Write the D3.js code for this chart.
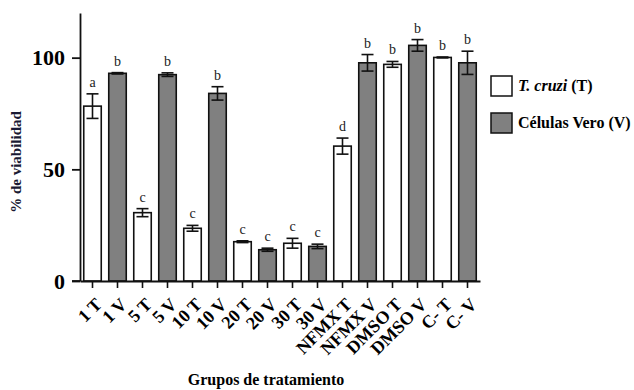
<!DOCTYPE html>
<html>
<head>
<meta charset="utf-8">
<script src="https://cdn.jsdelivr.net/npm/d3@7"></script>
<style>
  html, body { margin: 0; padding: 0; background: #fff; }
  svg { display: block; }
</style>
</head>
<body>
<svg id="chart" width="634" height="390"></svg>
<script>
// Treatment groups (T = T. cruzi, V = Vero cells)
const groups = ["1 T", "1 V", "5 T", "5 V", "10 T", "10 V", "20 T", "20 V",
                "30 T", "30 V", "NFMX T", "NFMX V", "DMSO T", "DMSO V", "C- T", "C- V"];
const series = ["T", "V", "T", "V", "T", "V", "T", "V", "T", "V", "T", "V", "T", "V", "T", "V"];
const viability = [78.3, 93.0, 30.6, 92.4, 23.6, 84.0, 17.6, 14.0, 16.9, 15.5, 60.4, 97.7, 97.0, 105.5, 100.1, 97.7];
const errors    = [5.5, 0.3, 1.8, 0.8, 1.3, 3.0, 0.4, 0.7, 2.2, 1.0, 3.6, 3.7, 1.3, 2.6, 0.2, 5.2];
const letters   = ["a", "b", "c", "b", "c", "b", "c", "c", "c", "c", "d", "b", "b", "b", "b", "b"];
const yTicks = [0, 50, 100];
const legendItems = [
  { key: "T", italic: "T. cruzi", rest: " (T)" },
  { key: "V", italic: "", rest: "Células Vero (V)" }
];

const fills = { T: "#ffffff", V: "#808080" };
const SERIF = "'Liberation Serif', 'Times New Roman', serif";

const svg = d3.select("#chart");

const x = d3.scaleBand()
  .domain(groups)
  .range([80, 480])
  .paddingInner(0.3)
  .paddingOuter(0.15);

const y = d3.scaleLinear().domain([0, 120]).range([281, 13]);

// Bars
svg.append("g").selectAll("rect")
  .data(groups)
  .join("rect")
  .attr("x", d => x(d))
  .attr("width", x.bandwidth())
  .attr("y", (d, i) => y(viability[i]))
  .attr("height", (d, i) => y(0) - y(viability[i]))
  .attr("fill", (d, i) => fills[series[i]])
  .attr("stroke", "#111")
  .attr("stroke-width", 1.6);

// Error bars
const cap = 6;
const eb = svg.append("g").attr("stroke", "#111").attr("stroke-width", 1.6);
groups.forEach((g, i) => {
  const cx = x(g) + x.bandwidth() / 2;
  const hi = y(viability[i] + errors[i]);
  const lo = y(viability[i] - errors[i]);
  eb.append("line").attr("x1", cx).attr("x2", cx).attr("y1", hi).attr("y2", lo);
  eb.append("line").attr("x1", cx - cap).attr("x2", cx + cap).attr("y1", hi).attr("y2", hi);
  eb.append("line").attr("x1", cx - cap).attr("x2", cx + cap).attr("y1", lo).attr("y2", lo);
});

// Significance letters
svg.append("g").selectAll("text")
  .data(groups)
  .join("text")
  .attr("x", d => x(d) + x.bandwidth() / 2)
  .attr("y", (d, i) => y(viability[i] + errors[i]) - 7)
  .attr("text-anchor", "middle")
  .style("font-family", SERIF)
  .style("font-size", "14px")
  .attr("fill", "#222")
  .text((d, i) => letters[i]);

// Y axis
const yAxis = svg.append("g")
  .attr("transform", "translate(80,0)")
  .call(d3.axisLeft(y).tickValues(yTicks).tickSize(8).tickSizeOuter(0).tickPadding(7));
yAxis.select(".domain").attr("stroke", "#111").attr("stroke-width", 1.8);
yAxis.selectAll(".tick line").attr("stroke", "#111").attr("stroke-width", 1.8);
yAxis.selectAll(".tick text")
  .style("font-family", SERIF)
  .style("font-weight", "bold")
  .style("font-size", "22px")
  .attr("fill", "#000");

// X axis
const xAxis = svg.append("g")
  .attr("transform", `translate(0,${y(0)})`)
  .call(d3.axisBottom(x).tickSize(7).tickSizeOuter(0));
xAxis.select(".domain").attr("stroke", "#111").attr("stroke-width", 1.8);
xAxis.selectAll(".tick line").attr("stroke", "#111").attr("stroke-width", 1.6);
xAxis.selectAll(".tick text")
  .style("font-family", SERIF)
  .style("font-weight", "bold")
  .style("font-size", "18px")
  .attr("fill", "#000")
  .attr("text-anchor", "end")
  .attr("dy", "0.35em")
  .attr("transform", "translate(-1,13) rotate(-45)");
// Extend the baseline slightly to the left of the y axis
svg.append("line")
  .attr("x1", 72).attr("x2", 80)
  .attr("y1", y(0)).attr("y2", y(0))
  .attr("stroke", "#111").attr("stroke-width", 1.8);

// Axis titles
svg.append("text")
  .attr("transform", "translate(21,162) rotate(-90)")
  .attr("text-anchor", "middle")
  .style("font-family", SERIF)
  .style("font-weight", "bold")
  .style("font-size", "15px")
  .attr("fill", "#1a1a33")
  .text("% de viabilidad");

svg.append("text")
  .attr("x", 266)
  .attr("y", 385)
  .attr("text-anchor", "middle")
  .style("font-family", SERIF)
  .style("font-weight", "bold")
  .style("font-size", "16px")
  .attr("fill", "#000")
  .text("Grupos de tratamiento");

// Legend
const legend = svg.append("g");
legendItems.forEach((it, i) => {
  const ly = 76 + i * 37;
  legend.append("rect")
    .attr("x", 491).attr("y", ly)
    .attr("width", 21).attr("height", 20)
    .attr("fill", fills[it.key])
    .attr("stroke", "#111").attr("stroke-width", 1.5);
  const t = legend.append("text")
    .attr("x", 518).attr("y", ly + 15)
    .style("font-family", SERIF)
    .style("font-weight", "bold")
    .style("font-size", "16px")
    .attr("fill", "#000");
  if (it.italic) t.append("tspan").style("font-style", "italic").text(it.italic);
  t.append("tspan").text(it.rest);
});
</script>
</body>
</html>
